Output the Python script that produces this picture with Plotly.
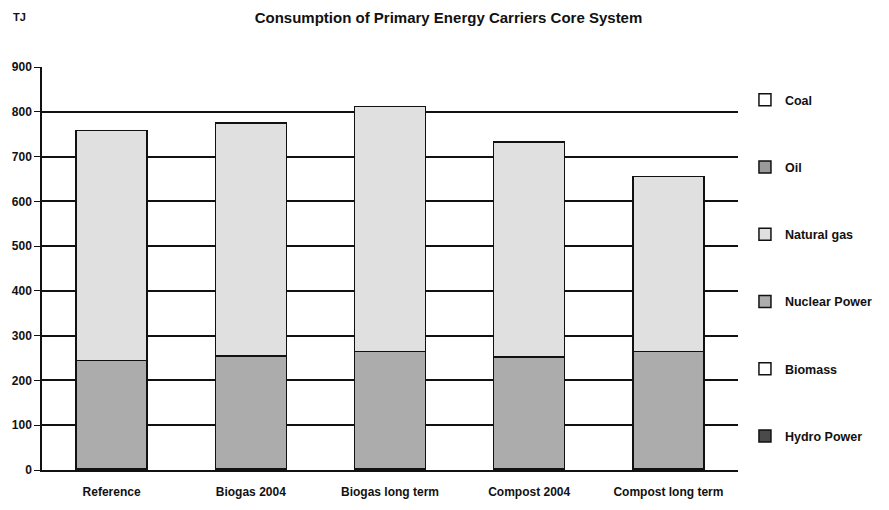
import plotly.graph_objects as go

scenarios = ["Reference", "Biogas 2004", "Biogas long term", "Compost 2004", "Compost long term"]

# TJ per carrier
hydro_power = [3, 3, 3, 3, 3]
biomass = [0, 0, 0, 0, 0]
nuclear_power = [242, 252, 262, 249, 262]
natural_gas = [513, 520, 547, 480, 391]
oil = [0, 0, 0, 0, 0]
coal = [0, 0, 0, 0, 0]

series = [
    ("Hydro Power", hydro_power, "#4a4a4a"),
    ("Biomass", biomass, "#ffffff"),
    ("Nuclear Power", nuclear_power, "#acacac"),
    ("Natural gas", natural_gas, "#e0e0e0"),
    ("Oil", oil, "#9a9a9a"),
    ("Coal", coal, "#ffffff"),
]

fig = go.Figure()
for i, (name, vals, col) in enumerate(series):
    fig.add_trace(
        go.Bar(
            x=scenarios,
            y=vals,
            name=name,
            legendgroup=name,
            legendrank=len(series) - i,  # Coal on top of the legend
            marker=dict(color=col, line=dict(color="#111111", width=1.5)),
        )
    )

# unit label, top left
fig.add_annotation(
    text="<b>TJ</b>", x=-0.032, y=1.125, xref="paper", yref="paper",
    xanchor="center", yanchor="middle",
    showarrow=False, font=dict(size=11, color="#111111"),
)

# page body has an 8px margin, so the figure is a bit smaller than the window
fig.update_layout(
    width=881,
    height=502,
    barmode="stack",
    bargap=0.49,
    margin=dict(l=34, r=148, t=59, b=40),
    paper_bgcolor="white",
    plot_bgcolor="white",
    font=dict(family="Liberation Sans, Arial, sans-serif", size=12, color="#111111"),
    title=dict(
        text="<b>Consumption of Primary Energy Carriers Core System</b>",
        x=0.5, xanchor="center", y=0.98, yanchor="middle",
        font=dict(size=15, color="#111111"),
    ),
    legend=dict(
        x=1.01, xanchor="left", y=0.955, yanchor="top",
        traceorder="grouped",
        tracegroupgap=48,
        itemwidth=30,
        font=dict(size=12.5, color="#111111", weight="bold"),
        bgcolor="rgba(0,0,0,0)",
    ),
    yaxis=dict(
        range=[0, 900],
        dtick=100,
        automargin=False,
        showgrid=True,
        gridcolor="#111111",
        gridwidth=1.5,
        showline=True,
        linecolor="#111111",
        linewidth=1.5,
        ticks="outside",
        ticklen=6,
        tickcolor="#111111",
        tickfont=dict(size=12, weight="bold"),
        zeroline=False,
    ),
    xaxis=dict(
        automargin=False,
        showline=True,
        linecolor="#111111",
        linewidth=1.5,
        ticks="",
        ticklabelstandoff=10,
        tickfont=dict(size=12, weight="bold"),
    ),
)

fig.write_html("out.html")
